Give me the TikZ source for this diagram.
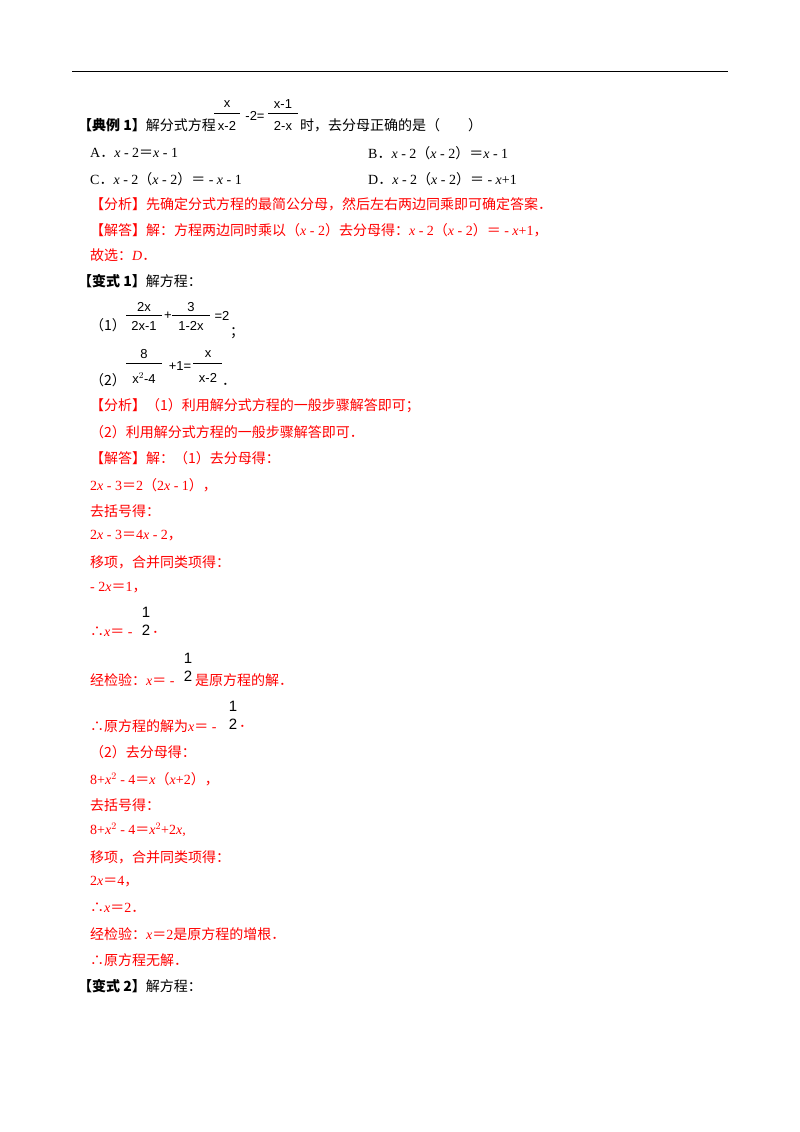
\documentclass[tikz,border=0pt]{standalone}
\usepackage{fontspec}
\setmainfont{Liberation Serif}
\newfontfamily\cjk{Noto Sans CJK SC}
\newfontfamily\fs{Liberation Sans}
\newcommand\C[1]{{\cjk #1}}
\newcommand\X{\textit{x}}
\newcommand\D{\C{．}}
\begin{document}
\begin{tikzpicture}[x=1pt,y=-1pt,
  t/.style={anchor=west,inner sep=0pt,font=\fontsize{14}{15}\selectfont},
  r/.style={t,text=red},
  f/.style={inner sep=0pt,font=\fs\fontsize{13}{14}\selectfont},
  h/.style={inner sep=0pt,font=\fs\fontsize{15}{16}\selectfont}]
\useasboundingbox (0,0) rectangle (800,1132);
\draw[line width=1pt] (72,72) -- (728,72);
% example 1
\node[t] (l1) at (78,125) {\C{\textbf{【典例 1】}解分式方程}};
\node[f] (n1) at (227,104) {x};
\node[f] (d1) at (227,126) {x-2};
\draw (214,113) -- (240,113);
\node[f] (m1) at (255,116) {-2=};
\node[f] (n2) at (283,104) {x-1};
\node[f] (d2) at (283,126) {2-x};
\draw (268,113) -- (298,113);
\node[t] (l1b) at (300,125) {\C{时，去分母正确的是（　　）}};
\node[t] (a) at (90,153) {A\D\X\ - 2\C{＝}\X\ - 1};
\node[t] (b) at (368,153) {B\D\X\ - 2\C{（}\X\ - 2\C{）＝}\X\ - 1};
\node[t] (c) at (90,179) {C\D\X\ - 2\C{（}\X\ - 2\C{）＝} - \X\ - 1};
\node[t] (d) at (368,179) {D\D\X\ - 2\C{（}\X\ - 2\C{）＝} - \X+1};
\node[r] (fx) at (90,204) {\C{【分析】先确定分式方程的最简公分母，然后左右两边同乘即可确定答案．}};
\node[r] (jd) at (90,230) {\C{【解答】解：方程两边同时乘以（}\X\ - 2\C{）去分母得：}\X\ - 2\C{（}\X\ - 2\C{）＝} - \X+1\C{，}};
\node[r] (gx) at (90,255) {\C{故选：}\textit{D}\D};
% variant 1
\node[t] (v1) at (78,281) {\C{\textbf{【变式 1】}解方程：}};
\node[t] (p1) at (90,325) {\C{（1）}};
\node[f] (a1) at (144,307) {2x}; \node[f] (a2) at (144,326) {2x-1};
\draw (126,315) -- (162,315);
\node[f] (pl) at (168,316) {+};
\node[f] (b1) at (191,307) {3}; \node[f] (b2) at (191,326) {1-2x};
\draw (172,315) -- (210,315);
\node[f] (eq2) at (222,316) {=2};
\node[t] (sc) at (230,333) {\C{；}};
\node[t] (p2) at (90,380) {\C{（2）}};
\node[f] (c1) at (144,354) {8}; \node[f] (c2) at (144,378) {x$^{2}$-4};
\draw (126,363) -- (162,363);
\node[f] (p1e) at (180,366) {+1=};
\node[f] (e1) at (208,354) {x}; \node[f] (e2) at (208,378) {x-2};
\draw (193,363) -- (222,363);
\node[t] (dot) at (222,384) {\D};
\node[r] (s1) at (90,406) {\C{【分析】（1）利用解分式方程的一般步骤解答即可；}};
\node[r] (s2) at (90,432) {\C{（2）利用解分式方程的一般步骤解答即可．}};
\node[r] (s3) at (90,458) {\C{【解答】解：（1）去分母得：}};
\node[r] (s4) at (90,485) {2\X\ - 3\C{＝}2\C{（}2\X\ - 1\C{），}};
\node[r] (s5) at (90,511) {\C{去括号得：}};
\node[r] (s6) at (90,536) {2\X\ - 3\C{＝}4\X\ - 2\C{，}};
\node[r] (s7) at (90,562) {\C{移项，合并同类项得：}};
\node[r] (s8) at (90,588) {- 2\X\C{＝}1\C{，}};
\node[r] (s9) at (90,632) {\C{∴}\X\C{＝} -};
\node[h] (h1) at (146,612) {1}; \node[h] (h2) at (146,630) {2};
\node[r] (s9b) at (152,632) {\D};
\node[r] (s10) at (90,680) {\C{经检验：}\X\C{＝} -};
\node[h] (h3) at (188,658) {1}; \node[h] (h4) at (188,676) {2};
\node[r] (s10b) at (195,680) {\C{是原方程的解．}};
\node[r] (s11) at (90,726) {\C{∴原方程的解为}\X\C{＝} -};
\node[h] (h5) at (233,706) {1}; \node[h] (h6) at (233,724) {2};
\node[r] (s11b) at (239,726) {\D};
\node[r] (s12) at (90,752) {\C{（2）去分母得：}};
\node[r] (s13) at (90,779) {8+\X$^{2}$ - 4\C{＝}\X\C{（}\X+2\C{），}};
\node[r] (s14) at (90,805) {\C{去括号得：}};
\node[r] (s15) at (90,830) {8+\X$^{2}$ - 4\C{＝}\X$^{2}$+2\X,};
\node[r] (s16) at (90,857) {\C{移项，合并同类项得：}};
\node[r] (s17) at (90,882) {2\X\C{＝}4\C{，}};
\node[r] (s18) at (90,908) {\C{∴}\X\C{＝}2\D};
\node[r] (s19) at (90,934) {\C{经检验：}\X\C{＝}2\C{是原方程的增根．}};
\node[r] (s20) at (90,960) {\C{∴原方程无解．}};
\node[t] (v2) at (78,986) {\C{\textbf{【变式 2】}解方程：}};
\end{tikzpicture}
\end{document}
